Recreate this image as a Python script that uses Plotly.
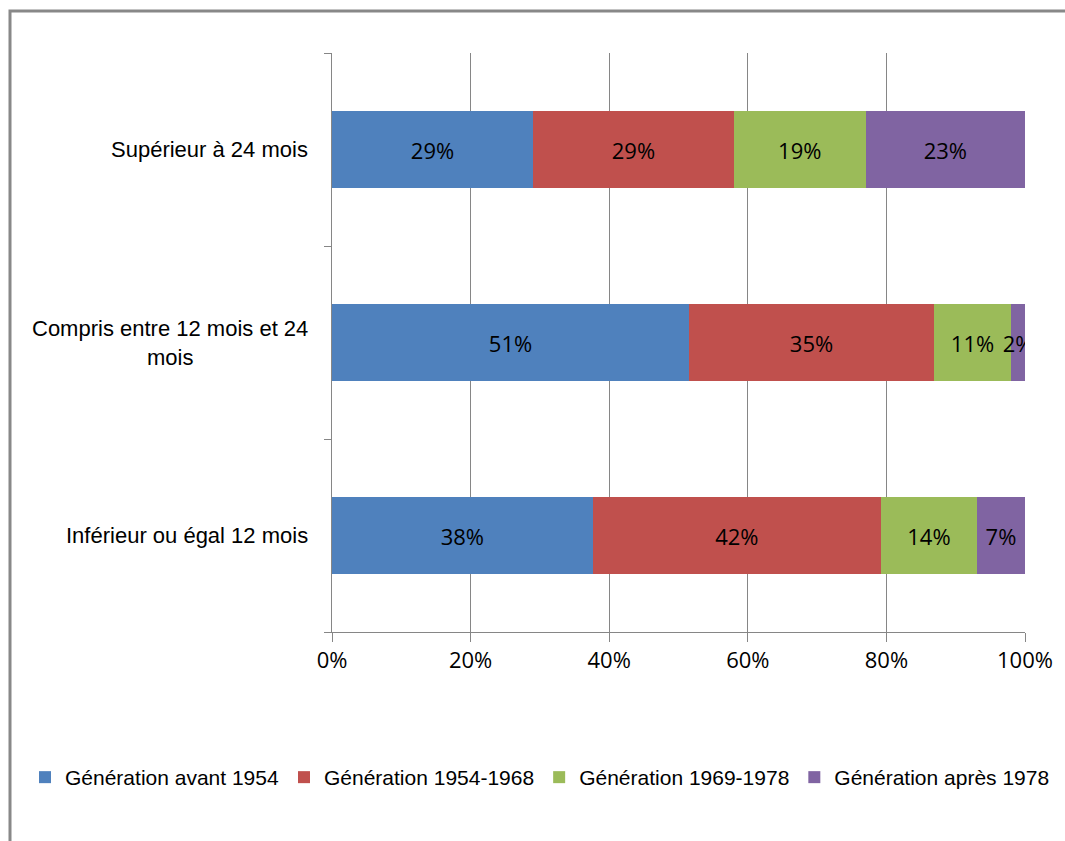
import plotly.graph_objects as go

# Durée (catégories, de bas en haut sur l'axe)
categories = [
    "Inférieur ou égal 12 mois",
    "Compris entre 12 mois et 24 mois",
    "Supérieur à 24 mois",
]
category_labels = [
    "Inférieur ou égal 12 mois",
    "Compris entre 12 mois et 24<br>mois",
    "Supérieur à 24 mois",
]

# Répartition par génération (%)
gen_avant_1954 = [38, 51, 29]
gen_1954_1968 = [42, 35, 29]
gen_1969_1978 = [14, 11, 19]
gen_apres_1978 = [7, 2, 23]

series_names = [
    "Génération avant 1954",
    "Génération 1954-1968",
    "Génération 1969-1978",
    "Génération après 1978",
]
series_values = [gen_avant_1954, gen_1954_1968, gen_1969_1978, gen_apres_1978]
series_colors = ["#4F81BD", "#C0504D", "#9BBB59", "#8064A2"]

x_ticks = [0, 20, 40, 60, 80, 100]

W, H = 1065, 841
ML, MR, MT, MB = 332, 40, 53, 209
PW, PH = W - ML - MR, H - MT - MB


def px_x(px):
    return (px - ML) / PW


def px_y(py):
    return (H - MB - py) / PH


fig = go.Figure()
for name, vals, color in zip(series_names, series_values, series_colors):
    fig.add_trace(go.Bar(
        y=categories,
        x=vals,
        name=name,
        orientation="h",
        marker=dict(color=color, line=dict(width=0)),
        text=[f"{v}%" for v in vals],
        textposition="inside",
        insidetextanchor="middle",
        textangle=0,
        constraintext="none",
        insidetextfont=dict(family="Open Sans, sans-serif", size=22, color="#000000"),
        hoverinfo="skip",
    ))

annotations = [
    dict(
        text=lab, xref="paper", yref="y", x=0, y=cat,
        xanchor="right", yanchor="middle", xshift=-22,
        align="center", showarrow=False,
        font=dict(family="Liberation Sans, Arial, sans-serif", size=22, color="#000000"),
    )
    for cat, lab in zip(categories, category_labels)
]

fig.update_layout(
    width=W, height=H,
    barmode="stack",
    barnorm="percent",
    bargap=0.6,
    paper_bgcolor="#FFFFFF",
    plot_bgcolor="#FFFFFF",
    margin=dict(l=ML, r=MR, t=MT, b=MB, autoexpand=False),
    showlegend=True,
    legend=dict(
        orientation="h",
        x=px_x(25), xanchor="left",
        y=px_y(757), yanchor="top",
        font=dict(family="Liberation Sans, Arial, sans-serif", size=21, color="#000000"),
        traceorder="normal",
        bgcolor="rgba(0,0,0,0)",
    ),
    xaxis=dict(
        range=[0, 100],
        tickvals=x_ticks,
        ticktext=[f"{t}%" for t in x_ticks],
        ticks="outside", ticklen=9, tickcolor="#868686", tickwidth=1,
        showgrid=True, gridcolor="#868686", gridwidth=1,
        showline=True, linecolor="#868686", linewidth=1,
        zeroline=False,
        tickfont=dict(family="Open Sans, sans-serif", size=22, color="#000000"),
        fixedrange=True,
    ),
    yaxis=dict(
        categoryorder="array", categoryarray=categories,
        range=[-0.5, 2.5],
        showticklabels=False,
        ticks="outside", ticklen=7, tickcolor="#868686", tickwidth=1,
        tickson="boundaries",
        showgrid=False,
        showline=True, linecolor="#868686", linewidth=1,
        fixedrange=True,
    ),
    annotations=annotations,
    shapes=[
        dict(
            type="rect", xref="paper", yref="paper",
            x0=px_x(10), x1=px_x(1075), y0=px_y(850), y1=px_y(11),
            line=dict(color="#888888", width=3), fillcolor="rgba(0,0,0,0)",
            layer="below",
        )
    ],
)

fig.write_html("out.html", config={"displayModeBar": False})
